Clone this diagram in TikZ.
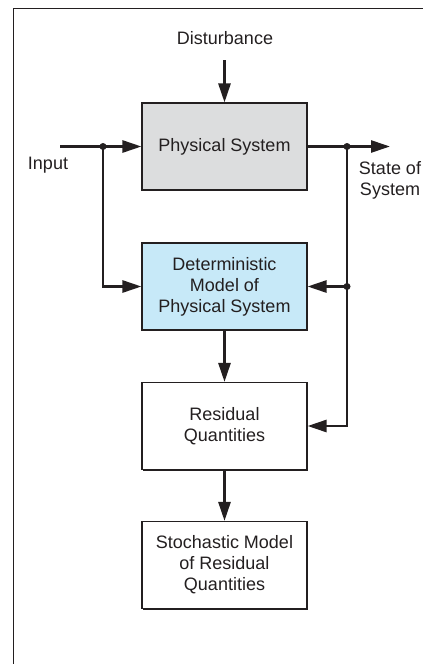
\documentclass[tikz,border=0pt]{standalone}
\usepackage{fontspec}
\setmainfont{Liberation Sans}
\usetikzlibrary{arrows.meta,shadows}
\definecolor{inkgray}{HTML}{231F20}
\definecolor{sysgray}{HTML}{DCDDDE}
\definecolor{modelblue}{HTML}{C7E9F8}
\begin{document}
\begin{tikzpicture}[x=1pt,y=-1pt,
	block/.style={draw=inkgray,line width=1.1pt,minimum width=165pt,minimum height=87pt,align=center,text=inkgray,font=\fontsize{18}{21}\selectfont,drop shadow={shadow xshift=1.3pt,shadow yshift=-1.3pt,fill=inkgray,opacity=1}},
	flow/.style={draw=inkgray,line width=2.6pt,-{Triangle[length=19pt,width=12pt]}},
	lbl/.style={text=inkgray,font=\fontsize{18}{21}\selectfont,align=center,inner sep=0pt}]
		\useasboundingbox (0,0) rectangle (423,664);
		%Frame
			\draw[inkgray,line width=1pt] (13.5,664) -- (13.5,8) -- (423,8);
		%Blocks
			\node[block,fill=sysgray] (physsys) at (224.5,146.5) {Physical System};
			\node[block,fill=modelblue] (detmodel) at (224.5,286.5) {Deterministic\\Model of\\Physical System};
			\node[block,fill=white] (residual) at (224.5,426) {Residual\\Quantities};
			\node[block,fill=white] (stochmodel) at (224.5,565) {Stochastic Model\\of Residual\\Quantities};
		%Labels
			\node[lbl] (disturb) at (225,38) {Disturbance};
			\node[lbl] (input) at (48,165) {Input};
			\node[lbl] (state) at (390,180) {State of\\System};
		%Branch points
			\coordinate (distin) at (224.5,60);
			\coordinate (inleft) at (60,146.5);
			\coordinate (insplit) at (103,146.5);
			\coordinate (outsplit) at (347,146.5);
			\coordinate (outright) at (390,146.5);
		%Signals
			\draw[flow] (distin) -- (physsys.north);
			\draw[flow] (inleft) -- (physsys.west);
			\draw[flow] (insplit) |- (detmodel.west);
			\draw[flow] (physsys.east) -- (outright);
			\draw[flow] (outsplit) |- (residual.east);
			\draw[flow] (outsplit |- detmodel.east) -- (detmodel.east);
			\draw[flow] (detmodel.south) -- (residual.north);
			\draw[flow] (residual.south) -- (stochmodel.north);
		%Dots
			\foreach \p in {insplit,outsplit}
			{
				\fill[inkgray] (\p) circle (3.5pt);
			}
			\fill[inkgray] (outsplit |- detmodel.east) circle (3.5pt);
	\end{tikzpicture}
\end{document}
